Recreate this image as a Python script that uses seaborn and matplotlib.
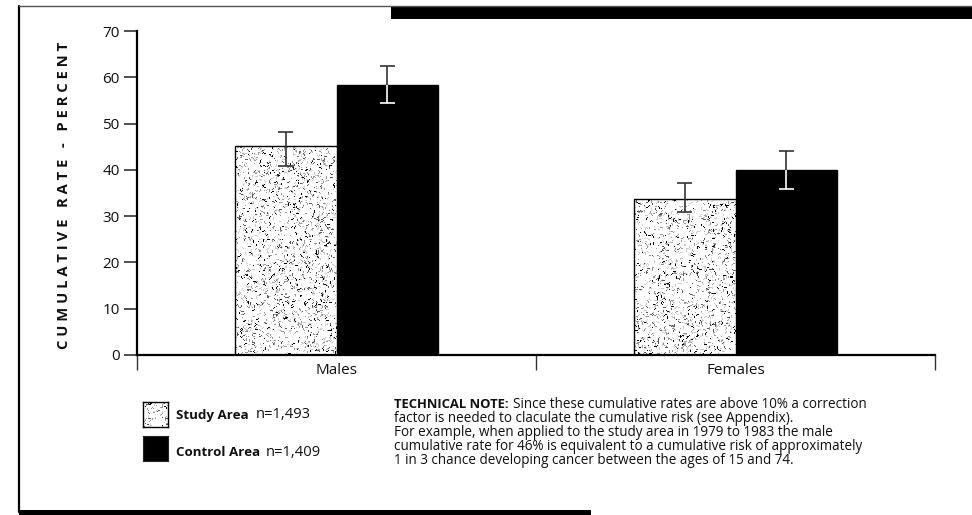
import numpy as np
import pandas as pd
import matplotlib
matplotlib.use("Agg")
import matplotlib.pyplot as plt
import seaborn as sns
from matplotlib.patches import Rectangle
from matplotlib.lines import Line2D

# ---- data -------------------------------------------------------------
groups = ["Males", "Females"]
series = ["Study Area", "Control Area"]
study_rate = [45.1, 33.8]
control_rate = [58.3, 40.0]
study_low = [40.8, 31.0]
study_high = [48.2, 37.1]
control_low = [54.4, 35.9]
control_high = [62.5, 44.1]
series_n = ["n=1,493", "n=1,409"]
y_ticks = [0, 10, 20, 30, 40, 50, 60, 70]
y_label = "CUMULATIVE RATE - PERCENT"
note_title = "TECHNICAL NOTE:"
note_first = "Since these cumulative rates are above 10% a correction"
note_rest = [
    "factor is needed to claculate the cumulative risk (see Appendix).",
    "For example, when applied to the study area in 1979 to 1983 the male",
    "cumulative rate for 46% is equivalent to a cumulative risk of approximately",
    "1 in 3 chance developing cancer between the ages of 15 and 74.",
]

df = pd.DataFrame({
    "group": groups * 2,
    "area": [series[0]] * len(groups) + [series[1]] * len(groups),
    "rate": study_rate + control_rate,
})

W, H = 972, 515
sns.set_style("white")
plt.rcParams["font.family"] = ["Open Sans", "DejaVu Sans"]
DARK = "#333333"
INK = "#111111"


def speckle(h, w, seed):
    """Stipple fill texture: short randomly oriented dark flecks on white."""
    rng = np.random.default_rng(seed)
    img = np.ones((h, w))
    n = int(h * w * 0.09)
    ys = rng.integers(0, h, n)
    xs = rng.integers(0, w, n)
    ang = rng.uniform(0, np.pi, n)
    ln = rng.integers(1, 4, n)
    tone = rng.choice([0.0, 0.35, 0.6, 0.8], n, p=[0.17, 0.18, 0.3, 0.35])
    for y, x, a, l, t in zip(ys, xs, ang, ln, tone):
        for k in range(l):
            yy = int(round(y + k * np.sin(a)))
            xx = int(round(x + k * np.cos(a)))
            if 0 <= yy < h and 0 <= xx < w:
                img[yy, xx] = min(img[yy, xx], t)
    return img


fig = plt.figure(figsize=(W / 100, H / 100), dpi=100)
ax = fig.add_axes([137 / W, 1 - 355 / H, (935 - 137) / W, (355 - 31) / H])

sns.barplot(data=df, x="group", y="rate", hue="area", order=groups,
            hue_order=series, palette=["white", "black"], saturation=1,
            width=0.51, gap=0, edgecolor="black", linewidth=1.0,
            errorbar=None, legend=False, ax=ax)

ax.set_xlim(-0.5, len(groups) - 0.5)
ax.set_ylim(0, 70)

px_x = (935 - 137) / len(groups)
px_y = (355 - 31) / 70

# stippled texture for the study-area bars
for i, bar in enumerate(ax.containers[0]):
    x0, w_ = bar.get_x(), bar.get_width()
    h_ = bar.get_height()
    img = speckle(max(int(h_ * px_y), 2), max(int(w_ * px_x), 2), 11 + i)
    bar.set_facecolor("none")
    bar.set_zorder(2)
    im = ax.imshow(img, cmap="gray", vmin=0, vmax=1, extent=(x0, x0 + w_, 0, h_),
                   aspect="auto", interpolation="nearest", zorder=1.5)
    im.set_clip_path(bar)

# error bars; inside the black bars the lower arm shows in white
cap = 7.5 / px_x
for cont, lows, highs, inner in zip(ax.containers, [study_low, control_low],
                                    [study_high, control_high], [DARK, "white"]):
    for bar, lo, hi in zip(cont, lows, highs):
        xc = bar.get_x() + bar.get_width() / 2
        top = bar.get_height()
        ax.vlines(xc, top, hi, color=DARK, lw=1.2, zorder=4)
        ax.hlines(hi, xc - cap, xc + cap, color=DARK, lw=1.2, zorder=4)
        ax.vlines(xc, lo, top, color=inner, lw=1.2, zorder=4)
        ax.hlines(lo, xc - cap, xc + cap, color=inner, lw=1.2, zorder=4)

ax.set_xlim(-0.5, len(groups) - 0.5)
ax.set_ylim(0, 70)
ax.set_yticks(y_ticks)
ax.set_xticks(range(len(groups)))
ax.set_xticklabels(groups)
ax.set_xticks([g - 0.5 for g in range(len(groups) + 1)], minor=True)
ax.set_xlabel("")
ax.set_ylabel("")
for s in ["top", "right"]:
    ax.spines[s].set_visible(False)
for s in ["left", "bottom"]:
    ax.spines[s].set_linewidth(1.6)
    ax.spines[s].set_color("black")
ax.tick_params(axis="y", which="major", left=True, direction="out", length=9.5,
               width=1.2, color=DARK, pad=3, labelsize=11, labelcolor=INK)
ax.tick_params(axis="x", which="major", bottom=True, length=0, pad=6,
               labelsize=11, labelcolor=INK)
ax.tick_params(axis="x", which="minor", bottom=True, direction="out", length=11,
               width=1.0, color=DARK)

# rotated, letter-spaced axis title
spaced = "   ".join(" ".join(word) for word in y_label.split(" "))
fig.text(64 / W, 1 - 195 / H, spaced, rotation=90, ha="center", va="center",
         fontsize=10.6, fontweight="bold", color=INK)

# legend swatches and labels
sw = fig.add_axes([143 / W, 1 - 427 / H, 25 / W, 25 / H])
sw.imshow(speckle(25, 25, 5), cmap="gray", vmin=0, vmax=1,
          interpolation="nearest", aspect="auto")
sw.set_xticks([])
sw.set_yticks([])
for s in sw.spines.values():
    s.set_linewidth(1.0)
    s.set_color("black")
sw2 = fig.add_axes([143 / W, 1 - 461 / H, 25 / W, 25 / H])
sw2.set_facecolor("black")
sw2.set_xticks([])
sw2.set_yticks([])

renderer = fig.canvas.get_renderer()


def bold_then_regular(x_px, y_px, bold, regular, bsize, rsize, gap_px):
    t = fig.text(x_px / W, 1 - y_px / H, bold, fontsize=bsize, fontweight="bold",
                 va="center", color=INK)
    x1 = t.get_window_extent(renderer).x1
    fig.text((x1 + gap_px) / W, 1 - y_px / H, regular, fontsize=rsize,
             va="center", color=INK)


bold_then_regular(176, 415, series[0], series_n[0], 9.6, 10.6, 7)
bold_then_regular(176, 452, series[1], series_n[1], 9.6, 10.6, 6)

# technical note
bold_then_regular(394, 405, note_title, note_first, 9.4, 9.75, 4)
for k, line in enumerate(note_rest):
    fig.text(394 / W, 1 - (419 + 13.7 * k) / H, line, fontsize=9.75, va="center",
             color=INK)

# page frame
fig.add_artist(Line2D([19 / W, 19 / W], [1 - 6 / H, 1 - 512 / H],
                      transform=fig.transFigure, color="black", lw=1.6))
fig.add_artist(Line2D([19 / W, 1], [1 - 6 / H, 1 - 6 / H],
                      transform=fig.transFigure, color="#555555", lw=1.0))
fig.add_artist(Rectangle((391 / W, 1 - 19 / H), (W - 391) / W, 13 / H,
                         transform=fig.transFigure, color="black", lw=0))
fig.add_artist(Rectangle((19 / W, 0), (591 - 19) / W, 5 / H,
                         transform=fig.transFigure, color="black", lw=0))

fig.savefig("out.png", dpi=100, facecolor="white")
